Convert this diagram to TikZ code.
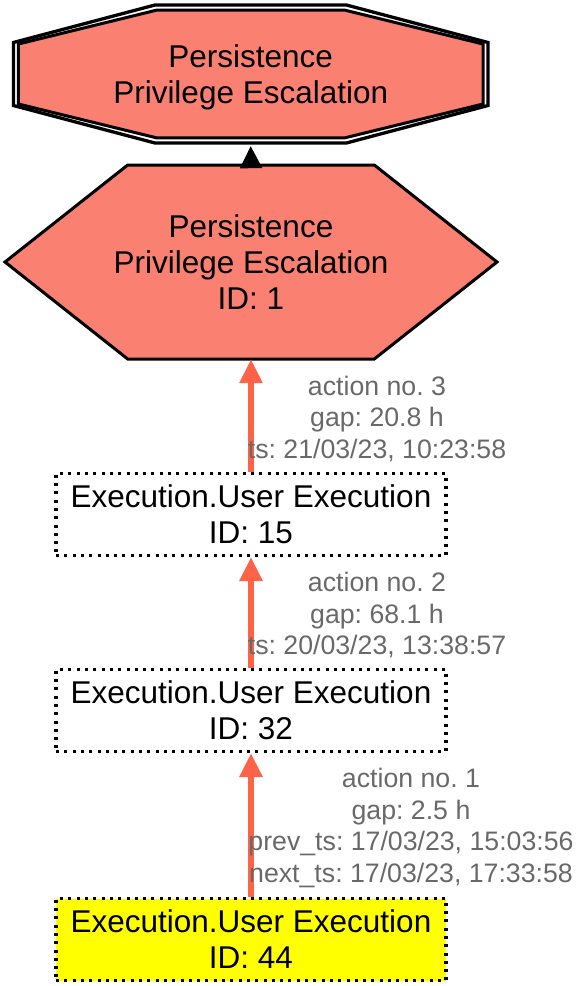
\documentclass[tikz,border=0pt]{standalone}
\usepackage{fontspec}
\setmainfont{Liberation Sans}
\usepackage{xcolor}
\usepackage{tikz}
\usetikzlibrary{arrows.meta}
\usetikzlibrary{backgrounds}

\definecolor{salmon}{HTML}{FA8072}
\definecolor{tomato}{HTML}{FF6347}
\definecolor{dimgray}{HTML}{696969}
\definecolor{pureyellow}{HTML}{FFFF00}

\tikzset{
  tactic/.style={inner sep=0pt, align=center, font=\fontsize{31.5}{36}\selectfont},
  stepbox/.style={tactic, draw, line width=3.2pt, dash pattern=on 3pt off 5.3pt,
    minimum width=390pt, minimum height=82pt},
  gaplabel/.style={inner sep=0pt, align=center, text=dimgray, yshift=-3pt,
    font=\fontsize{26.7}{31.5}\selectfont},
  ctrlarrow/.style={line width=2pt, -{Triangle[length=22pt,width=22pt]}},
  seqarrow/.style={draw=tomato, line width=6pt, -{Triangle[length=24pt,width=22pt]}},
}

\begin{document}
\frenchspacing
\begin{tikzpicture}[x=1pt,y=-1pt]
    \useasboundingbox (0,0) rectangle (580,986);
    \node[tactic, minimum width=475pt, minimum height=138pt] (goal) at (250.7,77)
      {Persistence\\Privilege Escalation};
    \node[tactic, minimum width=492pt, minimum height=194pt] (tactic1) at (251,262)
      {Persistence\\Privilege Escalation\\ID: 1};
    \node[stepbox] (step15) at (251,514.5) {Execution.User Execution\\ID: 15};
    \node[stepbox] (step32) at (251,710.5) {Execution.User Execution\\ID: 32};
    \node[stepbox, fill=pureyellow] (step44) at (251,939.5) {Execution.User Execution\\ID: 44};
    \begin{scope}[on background layer]
      \draw[line width=3.3pt, line join=miter, shift={(goal.center)}]
        (-95.7,-72) -- (95.7,-72) -- (237.3,-34.5) -- (237.3,28.5)
        -- (95.7,66) -- (-95.7,66) -- (-237.3,28.5) -- (-237.3,-34.5) -- cycle;
      \filldraw[fill=salmon, line width=3pt, line join=miter, shift={(goal.center)}]
        (-94.3,-66.8) -- (94.3,-66.8) -- (232.3,-33) -- (232.3,27)
        -- (94.3,60.8) -- (-94.3,60.8) -- (-232.3,27) -- (-232.3,-33) -- cycle;
      \filldraw[fill=salmon, line width=3pt, line join=miter, shift={(tactic1.center)}]
        (-123.3,-97) -- (123.3,-97) -- (246,0) -- (123.3,97) -- (-123.3,97) -- (-246,0) -- cycle;
    \end{scope}
    \draw[ctrlarrow] (tactic1.north) -- (goal.south);
    \draw[seqarrow] (step15.north) -- node[gaplabel, xshift=126pt] (gap3)
      {action no. 3\\gap: 20.8 h\\ts: 21/03/23, 10:23:58} (tactic1.south);
    \draw[seqarrow] (step32.north) -- node[gaplabel, xshift=126pt] (gap2)
      {action no. 2\\gap: 68.1 h\\ts: 20/03/23, 13:38:57} (step15.south);
    \draw[seqarrow] (step44.north) -- node[gaplabel, xshift=160pt] (gap1)
      {action no. 1\\gap: 2.5 h\\prev\_ts: 17/03/23, 15:03:56\\next\_ts: 17/03/23, 17:33:58} (step32.south);
  \end{tikzpicture}
\end{document}
